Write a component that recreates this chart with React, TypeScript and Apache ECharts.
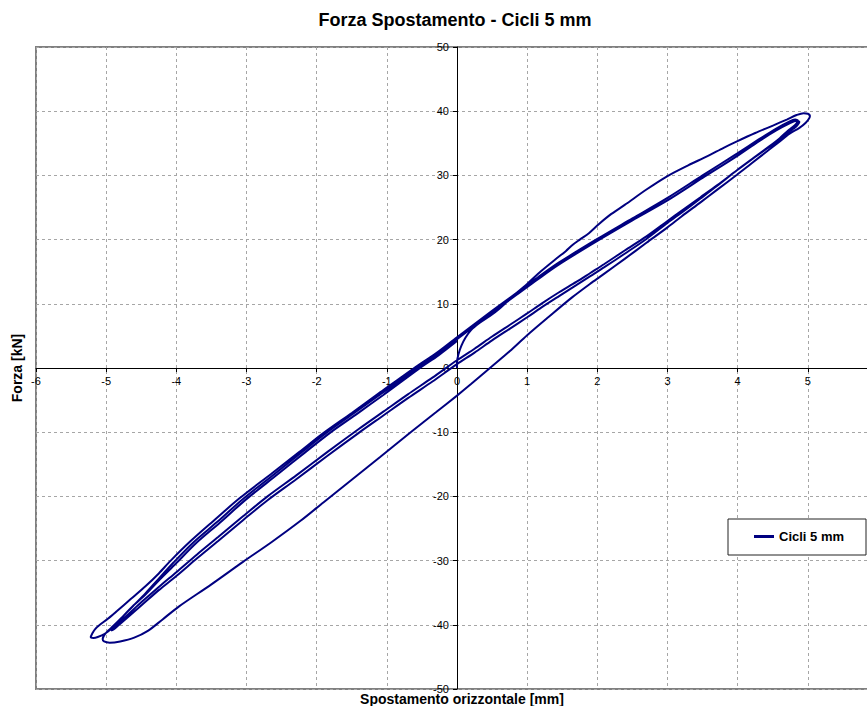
import React, { useEffect, useRef } from "react";
import * as echarts from "echarts";

type Pt = [number, number];

const FONT = '"Liberation Sans", Arial, sans-serif';
const SERIES_NAME = "Cicli 5 mm";
const CHART_TITLE = "Forza Spostamento - Cicli 5 mm";
const X_NAME = "Spostamento orizzontale [mm]";
const Y_NAME = "Forza [kN]";

// Displacement [mm] / force [kN] samples, one array per branch of the test path
const virginLoading: Pt[] = [
  [0, 0], [0, 0.9], [0.02, 2.1], [0.06, 3.4], [0.12, 4.7], [0.2, 5.9], [0.32, 7.0],
  [0.47, 8.1], [0.6, 9.2], [0.72, 10.4], [0.86, 11.8], [1.0, 13.1], [1.2, 15.1],
  [1.4, 16.9], [1.55, 18.2], [1.65, 19.2], [1.75, 20.0], [1.88, 21.0], [2.02, 22.4],
  [2.2, 24.0], [2.39, 25.4], [2.7, 27.8], [3.0, 29.9], [3.3, 31.6], [3.57, 33.0],
  [3.8, 34.3], [3.99, 35.3], [4.25, 36.6], [4.51, 37.8], [4.7, 38.7], [4.84, 39.4],
  [4.94, 39.7], [5.0, 39.6], [5.03, 39.3],
];

const unloading1: Pt[] = [
  [5.02, 38.9], [4.97, 38.2], [4.88, 37.4], [4.74, 36.5], [4.6, 35.3], [4.46, 34.1],
  [4.2, 31.9], [3.99, 30.1], [3.7, 27.7], [3.47, 25.8], [3.2, 23.6], [3.0, 21.9],
  [2.7, 19.5], [2.39, 17.0], [2.1, 14.7], [1.92, 13.3], [1.64, 11.0], [1.3, 7.9],
  [1.0, 5.1], [0.75, 2.6], [0.47, 0.0], [0.2, -2.5], [0, -4.3], [-0.3, -6.9],
  [-0.66, -10.0], [-1.1, -13.9], [-1.5, -17.4], [-1.9, -20.9], [-2.23, -23.8],
  [-2.64, -27.1], [-3.05, -30.2], [-3.5, -33.7], [-3.97, -37.2], [-4.2, -39.2],
  [-4.4, -40.9], [-4.6, -42.0], [-4.8, -42.6], [-4.95, -42.8], [-5.03, -42.6],
];

const reloading1: Pt[] = [
  [-5.05, -42.2], [-5.02, -41.5], [-4.97, -40.9], [-4.9, -40.2], [-4.78, -38.9],
  [-4.62, -37.1], [-4.44, -35.1], [-4.25, -32.8], [-4.04, -30.3], [-3.75, -27.1],
  [-3.42, -24.0], [-3.05, -20.4], [-2.6, -16.5], [-2.2, -13.0], [-1.85, -10.0],
  [-1.45, -6.9], [-1.08, -4.0], [-0.57, 0.0], [-0.28, 2.2], [0, 4.5], [0.5, 8.6],
  [0.85, 11.4], [1.15, 13.8], [1.45, 16.1], [2.0, 19.8], [2.5, 23.0], [3.0, 26.1],
  [3.5, 29.6], [3.99, 33.0], [4.3, 35.3], [4.55, 37.0], [4.74, 38.1], [4.84, 38.5],
  [4.88, 38.3],
];

const unloading2: Pt[] = [
  [4.85, 37.8], [4.8, 37.3], [4.74, 36.9], [4.6, 35.6], [4.46, 34.5], [4.2, 32.5],
  [3.99, 30.8], [3.7, 28.4], [3.47, 26.6], [3.2, 24.5], [3.0, 22.9], [2.7, 20.5],
  [2.39, 18.3], [2.1, 16.2], [1.9, 14.8], [1.7, 13.4], [1.455, 11.8], [1.2, 10.0],
  [1.0, 8.5], [0.75, 6.7], [0.5, 4.9], [0.25, 3.0], [0, 1.2], [-0.35, -1.5],
  [-0.7, -4.1], [-1.05, -6.8], [-1.4, -9.5], [-1.85, -13.1], [-2.3, -16.8],
  [-2.7, -20.0], [-3.05, -23.1], [-3.4, -26.3], [-3.7, -29.0], [-4.0, -31.8],
  [-4.25, -34.1], [-4.5, -36.5], [-4.72, -38.7], [-4.9, -40.4], [-5.02, -41.4],
  [-5.12, -41.9], [-5.18, -42.05], [-5.22, -41.9],
];

const reloading2: Pt[] = [
  [-5.2, -41.4], [-5.16, -40.7], [-5.09, -40.0], [-4.98, -39.1], [-4.85, -37.9],
  [-4.65, -36.0], [-4.44, -34.0], [-4.25, -32.0], [-4.08, -30.0], [-3.8, -27.0],
  [-3.48, -23.9], [-3.1, -20.3], [-2.65, -16.5], [-2.25, -13.1], [-1.9, -10.1],
  [-1.5, -7.0], [-1.12, -4.0], [-0.61, 0.0], [-0.3, 2.3], [0, 4.8], [0.5, 8.9],
  [0.85, 11.7], [1.15, 14.1], [1.45, 16.4], [2.0, 20.1], [2.5, 23.3], [3.0, 26.5],
  [3.5, 30.0], [3.99, 33.4], [4.3, 35.6], [4.55, 37.3], [4.72, 38.3], [4.82, 38.7],
  [4.86, 38.5],
];

const unloading3: Pt[] = [
  [4.83, 38.0], [4.78, 37.5], [4.72, 37.0], [4.6, 35.8], [4.46, 34.6], [4.2, 32.5],
  [3.99, 30.8], [3.7, 28.3], [3.47, 26.4], [3.2, 24.2], [3.0, 22.6], [2.7, 20.1],
  [2.39, 17.8], [2.1, 15.7], [1.9, 14.3], [1.7, 12.9], [1.455, 11.2], [1.2, 9.4],
  [1.0, 7.9], [0.75, 6.1], [0.5, 4.3], [0.25, 2.4], [0, 0.6], [-0.35, -2.1],
  [-0.7, -4.7], [-1.05, -7.4], [-1.4, -10.1], [-1.85, -13.7], [-2.3, -17.4],
  [-2.7, -20.6], [-3.05, -23.7], [-3.4, -26.9], [-3.7, -29.6], [-4.0, -32.4],
  [-4.25, -34.6], [-4.5, -37.0], [-4.72, -39.1], [-4.88, -40.6], [-4.93, -40.9],
];

const reloading3: Pt[] = [
  [-4.9, -40.4], [-4.82, -39.4], [-4.65, -37.4], [-4.44, -35.3], [-4.24, -33.0],
  [-4.01, -30.5], [-3.72, -27.3], [-3.38, -24.1], [-3.01, -20.5], [-2.56, -16.6],
  [-2.16, -13.1], [-1.81, -10.1], [-1.42, -7.1], [-1.05, -4.2], [-0.54, -0.1],
  [-0.26, 2.0], [0, 4.2],
];

const testPath: Pt[] = [
  ...virginLoading,
  ...unloading1,
  ...reloading1,
  ...unloading2,
  ...reloading2,
  ...unloading3,
  ...reloading3,
];

// Axis ranges and steps
const X_RANGE = [-6, 6];
const X_STEP = 1;
const Y_RANGE = [-50, 50];
const Y_STEP = 10;

const LINE_COLOR = "#000080";

// Plot frame in page pixels (the right edge runs past the page)
const PLOT_LEFT = 36;
const PLOT_TOP = 47;
const PLOT_WIDTH = 842;
const PLOT_HEIGHT = 642;
const CHART_WIDTH = 890;
const PAGE_WIDTH = 867;
const PAGE_HEIGHT = 706;

export default function App() {
  const ref = useRef<HTMLDivElement>(null);

  useEffect(() => {
    if (!ref.current) return;
    const chart = echarts.init(ref.current, null, { renderer: "svg" });

    const gridLine = { show: true, lineStyle: { color: "#a6a6a6", width: 1, type: [3, 3] as number[] } };
    const label = { color: "#000", fontSize: 11, fontFamily: FONT };

    // Axes cross at the origin: shift each one in from its grid edge to the zero line
    const xZeroOffset = -PLOT_HEIGHT * ((0 - Y_RANGE[0]) / (Y_RANGE[1] - Y_RANGE[0]));
    const yZeroOffset = -PLOT_WIDTH * ((0 - X_RANGE[0]) / (X_RANGE[1] - X_RANGE[0]));

    chart.setOption({
      animation: false,
      backgroundColor: "#fff",
      grid: {
        left: PLOT_LEFT,
        top: PLOT_TOP,
        width: PLOT_WIDTH,
        height: PLOT_HEIGHT,
        show: true,
        borderColor: "#808080",
        borderWidth: 2,
        containLabel: false,
        outerBoundsMode: "none",
      },
      xAxis: {
        type: "value",
        min: X_RANGE[0],
        max: X_RANGE[1],
        interval: X_STEP,
        position: "bottom",
        offset: xZeroOffset,
        axisLine: { show: true, onZero: false, lineStyle: { color: "#000", width: 1 } },
        axisTick: { show: true, length: 4, lineStyle: { color: "#000" } },
        axisLabel: { ...label, margin: 7, showMaxLabel: false },
        splitLine: gridLine,
      },
      yAxis: {
        type: "value",
        min: Y_RANGE[0],
        max: Y_RANGE[1],
        interval: Y_STEP,
        position: "left",
        offset: yZeroOffset,
        axisLine: { show: true, onZero: false, lineStyle: { color: "#000", width: 1 } },
        axisTick: { show: true, length: 4, lineStyle: { color: "#000" } },
        axisLabel: { ...label, margin: 8 },
        splitLine: gridLine,
      },
      legend: {
        data: [SERIES_NAME],
        left: 754,
        top: 530,
        padding: 0,
        z: 10,
        itemWidth: 20,
        itemHeight: 3,
        itemGap: 0,
        icon: "rect",
        textStyle: { color: "#000", fontWeight: "bold", fontSize: 13, fontFamily: FONT },
      },
      graphic: [
        {
          type: "rect",
          z: 5,
          shape: { x: 728, y: 519, width: 138, height: 36 },
          style: { fill: "#fff", stroke: "#222", lineWidth: 1 },
        },
        {
          type: "text",
          x: 455,
          y: 20,
          style: {
            text: CHART_TITLE,
            fill: "#000",
            font: `bold 18px ${FONT}`,
            align: "center",
            verticalAlign: "middle",
          },
        },
        {
          type: "text",
          x: 462,
          y: 699,
          style: {
            text: X_NAME,
            fill: "#000",
            font: `bold 14px ${FONT}`,
            align: "center",
            verticalAlign: "middle",
          },
        },
        {
          type: "text",
          x: 17,
          y: 368,
          rotation: Math.PI / 2,
          style: {
            text: Y_NAME,
            fill: "#000",
            font: `bold 14px ${FONT}`,
            align: "center",
            verticalAlign: "middle",
          },
        },
      ],
      series: [
        {
          name: SERIES_NAME,
          type: "line",
          data: testPath,
          showSymbol: false,
          symbol: "none",
          smooth: 0.3,
          lineStyle: { color: LINE_COLOR, width: 2 },
          itemStyle: { color: LINE_COLOR },
        },
      ],
    });

    return () => chart.dispose();
  }, []);

  return (
    <div
      style={{
        position: "absolute",
        left: 0,
        top: 0,
        width: PAGE_WIDTH,
        height: PAGE_HEIGHT,
        overflow: "hidden",
      }}
    >
      <div ref={ref} style={{ width: CHART_WIDTH, height: PAGE_HEIGHT }} />
    </div>
  );
}
